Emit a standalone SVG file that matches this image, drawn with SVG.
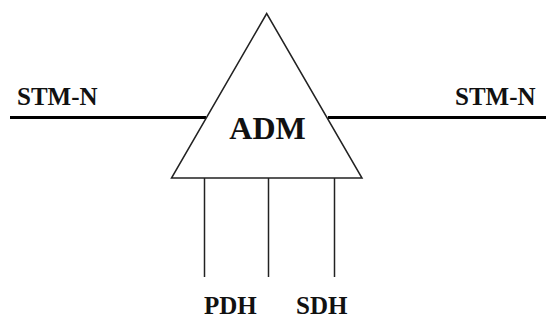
<svg xmlns="http://www.w3.org/2000/svg" width="546" height="320" viewBox="0 0 546 320">
<style>
text{font-family:"Liberation Serif","Times New Roman",serif;font-weight:700;fill:#111}
.thin{stroke:#222;stroke-width:1.5;fill:none}
.thick{stroke:#000;stroke-width:3;fill:none}
</style>
<rect width="546" height="320" fill="#fff"/>
<g id="connectors">
<line class="thick" x1="10" y1="117.5" x2="206" y2="117.5"/>
<line class="thick" x1="328" y1="117.5" x2="546" y2="117.5"/>
<line class="thin" x1="204.5" y1="178" x2="204.5" y2="277"/>
<line class="thin" x1="268.5" y1="178" x2="268.5" y2="277"/>
<line class="thin" x1="334.5" y1="178" x2="334.5" y2="277"/>
</g>
<g id="adm">
<polygon class="thin" points="266.7,13.5 171.5,178 362,178" fill="#fff"/>
<text x="267.5" y="138.5" font-size="32" text-anchor="middle">ADM</text>
</g>
<g id="stm-left"><text x="17" y="105" font-size="25">STM-N</text></g>
<g id="stm-right"><text x="455" y="105" font-size="25">STM-N</text></g>
<g id="pdh"><text x="204" y="314" font-size="25">PDH</text></g>
<g id="sdh"><text x="296" y="314" font-size="25">SDH</text></g>
</svg>
